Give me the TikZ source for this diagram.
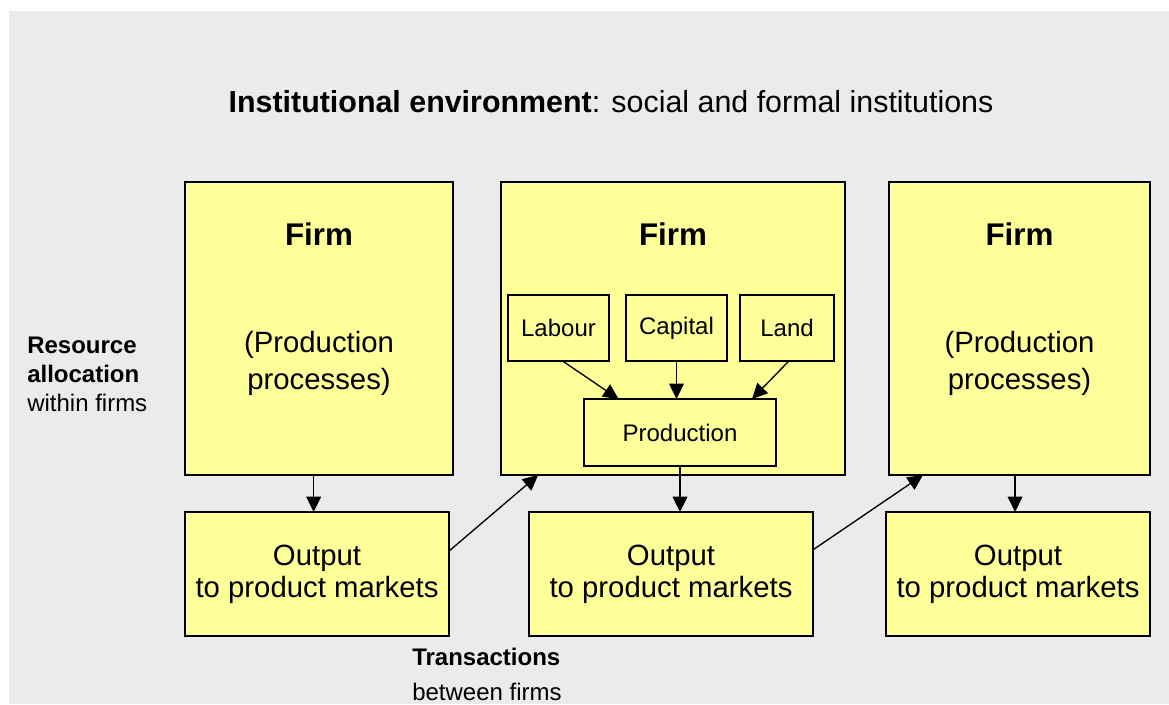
\documentclass[tikz,border=0pt]{standalone}
\usepackage{fontspec}
\setmainfont{Liberation Sans}
\usetikzlibrary{calc, arrows.meta, positioning}
\definecolor{firmyellow}{RGB}{255, 255, 153}
\definecolor{envgray}{RGB}{235, 235, 235}
\tikzset{
    firmnode/.style = {draw, rectangle, fill=firmyellow, line width=1.1pt, inner sep=0em, outer sep=0em},
    inputnode/.style = {firmnode, minimum width=75.75pt, minimum height=49.5pt, font=\fontsize{18}{21.6}\selectfont},
    outnode/.style = {firmnode, minimum width=198pt, minimum height=93pt, align=center, font=\fontsize{22}{24}\selectfont},
    textnode/.style = {draw=none, fill=none, rectangle, inner sep=0em, anchor=base},
    headnode/.style = {textnode, font=\fontsize{23.5}{27}\selectfont\bfseries},
    bigtextnode/.style = {textnode, align=center, font=\fontsize{22}{27.5}\selectfont},
    smalltextnode/.style = {textnode, align=left, anchor=base west, font=\fontsize{18}{21.4}\selectfont},
    connect/.style = {black, line width=1pt, -{Triangle[length=11.5pt, width=11pt]}}
}

\begin{document}
\begin{tikzpicture}[x=0.75pt, y=-0.75pt]
    \useasboundingbox (0,0) rectangle (1169,704);
    \fill [envgray] (9,11) rectangle (1169,704);

    \node [name = Env, textnode, font=\fontsize{22.8}{27}\selectfont] at (611,112) 
        {\textbf{Institutional environment}: social and formal institutions};

    \node [name = F1, firmnode, minimum width=201pt, minimum height=219.75pt] at (319,328.5) {};
    \node [name = F2, firmnode, minimum width=258pt, minimum height=219.75pt] at (673,328.5) {};
    \node [name = F3, firmnode, minimum width=195.75pt, minimum height=219.75pt] at (1019.5,328.5) {};

    \node [name = F1h, headnode] at (319,245) {Firm};
    \node [name = F2h, headnode] at (673,245) {Firm};
    \node [name = F3h, headnode] at (1019.5,245) {Firm};
    \node [name = F1p, bigtextnode] at (319,389) {(Production\\processes)};
    \node [name = F3p, bigtextnode] at (1019.5,389) {(Production\\processes)};

    \node [name = Labour, inputnode] at (558.5,328) {Labour};
    \node [name = Capital, inputnode] at (676.5,328) {Capital};
    \node [name = Land, inputnode, minimum width=70.5pt] at (787,328) {Land};
    \node [name = Prod, inputnode, minimum width=144pt, minimum height=50.25pt] at (680,432.5) {Production};

    \node [name = O1, outnode] at (317,574) {Output\\to product markets};
    \node [name = O2, outnode, minimum width=213pt] at (671,574) {Output\\to product markets};
    \node [name = O3, outnode] at (1018,574) {Output\\to product markets};

    \node [name = Alloc, smalltextnode] at (27,411) {\textbf{Resource}\\\textbf{allocation}\\within firms};
    \node [name = Trans, smalltextnode, font=\fontsize{18}{26.25}\selectfont] at (412,700) 
        {\textbf{Transactions}\\between firms};

    \coordinate (F1out) at ($(F1.south west)!0.48!(F1.south east)$);
    \coordinate (F3out) at ($(F3.south west)!0.483!(F3.south east)$);

    \draw [connect] ($(Labour.south west)!0.54!(Labour.south east)$) -- ($(Prod.north west)!0.18!(Prod.north east)$);
    \draw [connect] (Capital.south) -- (Capital.south |- Prod.north);
    \draw [connect] ($(Land.south west)!0.52!(Land.south east)$) -- ($(Prod.north west)!0.875!(Prod.north east)$);
    \draw [connect] (Prod.south) -- (Prod.south |- O2.north);
    \draw [connect] (F1out) -- (F1out |- O1.north);
    \draw [connect] (F3out) -- (F3out |- O3.north);
    \draw [connect] ($(O1.east)!0.37!(O1.north east)$) -- ($(F2.south west)!0.108!(F2.south east)$);
    \draw [connect] ($(O2.east)!0.39!(O2.north east)$) -- ($(F3.south west)!0.13!(F3.south east)$);
\end{tikzpicture}
\end{document}
